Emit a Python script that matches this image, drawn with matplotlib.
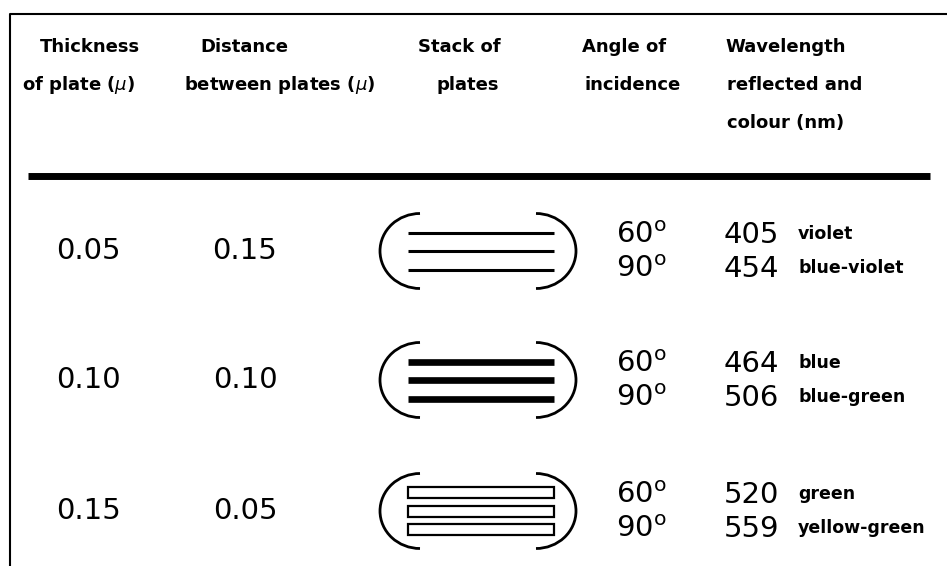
import matplotlib
matplotlib.use("Agg")
import matplotlib.pyplot as plt
from matplotlib.patches import Arc, Rectangle

# table contents
thickness = ["0.05", "0.10", "0.15"]
distance = ["0.15", "0.10", "0.05"]
angles = [60, 90]
wavelengths = [[405, 454], [464, 506], [520, 559]]
colours = [["violet", "blue-violet"], ["blue", "blue-green"], ["green", "yellow-green"]]
plate_style = ["thin", "thick", "hollow"]

# header lines: (left x, text) per line
headers = [
    [(40, "Thickness"), (22, "of plate ($\\mu$)")],
    [(200, "Distance"), (184, "between plates ($\\mu$)")],
    [(418, "Stack of"), (437, "plates")],
    [(582, "Angle of"), (585, "incidence")],
    [(725, "Wavelength"), (727, "reflected and"), (727, "colour (nm)")],
]

W, H = 947, 566
fig = plt.figure(figsize=(W / 100, H / 100), dpi=100)
ax = fig.add_axes([0, 0, 1, 1])
ax.set_xlim(0, W)
ax.set_ylim(H, 0)
ax.axis('off')

# frame (left + top)
ax.plot([10, 10, W], [H, 14, 14], color='black', lw=1.5)
# thick rule under header
ax.plot([28, 930], [176, 176], color='black', lw=5, solid_capstyle='butt')

hdr_font = dict(fontsize=13, fontweight='bold', color='black', va='center', ha='left')
for col in headers:
    for i, (x, t) in enumerate(col):
        ax.text(x, 47 + 38 * i, t, **hdr_font)

row_y = [251, 380, 511]
big = dict(fontsize=21, color='black', va='center')


def draw_stack(yc, style):
    x0, x1 = 408, 554
    # brackets
    ax.add_patch(Arc((420, yc), 80, 75, theta1=90, theta2=270, lw=2, color='black'))
    ax.add_patch(Arc((536, yc), 80, 75, theta1=-90, theta2=90, lw=2, color='black'))
    for o in [-18.5, 0, 18.5]:
        if style == "thin":
            ax.plot([x0, x1], [yc + o, yc + o], color='black', lw=2.2, solid_capstyle='butt')
        elif style == "thick":
            ax.plot([x0, x1], [yc + o, yc + o], color='black', lw=4.8, solid_capstyle='butt')
        else:
            ax.add_patch(Rectangle((x0, yc + o - 5.5), x1 - x0, 11, fill=False,
                                   ec='black', lw=1.6))


for i, y in enumerate(row_y):
    ax.text(88, y, thickness[i], ha='center', **big)
    ax.text(245, y, distance[i], ha='center', **big)
    draw_stack(y, plate_style[i])
    for j, a in enumerate(angles):
        yy = y - 16 + 34 * j
        ax.text(616, yy, f"{a}$^{{\\mathrm{{o}}}}$", ha='left', **big)
        ax.text(724, yy, str(wavelengths[i][j]), ha='left', **big)
        ax.text(798, yy - 1, colours[i][j], ha='left', va='center',
                fontsize=12.5, fontweight='bold', color='black')

fig.savefig("out.png", dpi=100)
